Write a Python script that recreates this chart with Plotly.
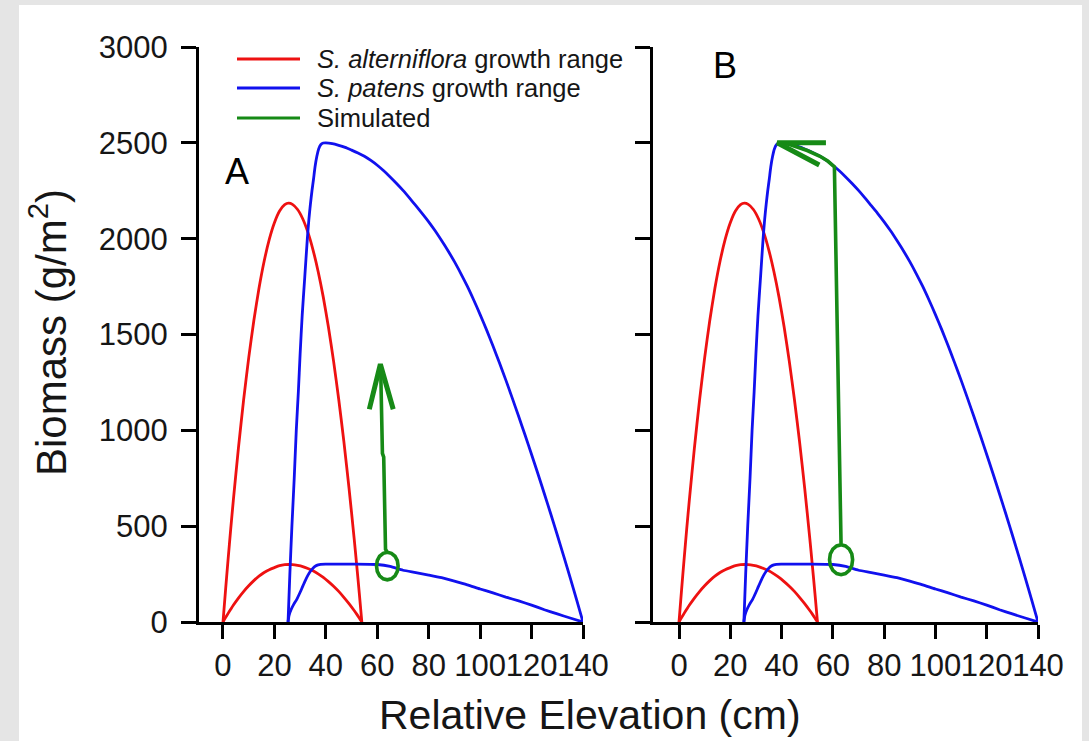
import plotly.graph_objects as go

# ---- growth-range curves: elevation (cm) vs. biomass (g/m2) ----
alt_x = [0, 1, 2, 3, 4, 6, 8, 10, 12, 14, 16, 18, 20, 22, 24, 25.5, 27, 29, 31,
         33, 35, 37, 39, 41, 43, 45, 47, 49, 51, 52, 53, 54]
alt_max_y = [0, 168, 329, 484, 632, 907, 1156, 1378, 1573, 1741, 1882, 1996,
             2083, 2144, 2177, 2185, 2179, 2152, 2104, 2034, 1942, 1829, 1695,
             1539, 1361, 1162, 942, 700, 436, 296, 151, 0]
alt_min_y = [0, 23, 45, 66, 87, 125, 159, 189, 216, 239, 258, 273, 284, 294,
             299, 300, 299, 295, 289, 279, 267, 251, 233, 211, 187, 160, 129,
             96, 60, 41, 21, 0]

pat_max_x = [25.3, 26, 26.8, 27.7, 28.5, 29.3, 30, 30.8, 31.8, 32.8, 33.4, 34,
             34.6, 35.2, 35.8, 36.5, 37.2, 38, 39, 40, 42.5, 45, 47.5, 50, 52.5,
             55, 57.5, 60, 62.5, 65, 67.5, 70, 72.5, 75, 77.5, 80, 82.5, 85,
             87.5, 90, 92.5, 95, 97.5, 100, 102.5, 105, 107.5, 110, 112.5, 115,
             117.5, 120, 122.5, 125, 127.5, 130, 132.5, 135, 137.5, 140]
pat_max_y = [0, 250, 500, 750, 1000, 1200, 1400, 1600, 1800, 2000, 2100, 2180,
             2250, 2310, 2375, 2430, 2468, 2490, 2499, 2500, 2496, 2487, 2476,
             2462, 2447, 2430, 2408, 2383, 2354, 2322, 2288, 2252, 2213, 2172,
             2131, 2088, 2041, 1990, 1937, 1880, 1818, 1752, 1680, 1604, 1524,
             1440, 1352, 1262, 1168, 1072, 974, 874, 772, 668, 562, 454, 344,
             232, 117, 0]

pat_min_x = [25.3, 25.7, 26.5, 27.5, 28.7, 30, 31, 32, 33, 34, 35, 36, 37, 38,
             40, 50, 60, 65, 70, 75, 80, 85, 90, 95, 100, 105, 110, 115, 120,
             125, 130, 135, 140]
pat_min_y = [0, 35, 65, 92, 118, 155, 186, 216, 243, 265, 281, 292, 298, 301,
             302, 302, 300, 290, 270, 258, 245, 231, 213, 194, 172, 152, 130,
             110, 88, 64, 42, 21, 0]

# ---- simulated trajectories (small loop, then upward path) ----
sim_a_x = [63.9, 65.5, 66.9, 67.8, 68.1, 67.8, 66.9, 65.5, 63.9, 62.3, 60.9,
           60.0, 59.7, 60.0, 60.9, 62.3, 63.9, 63.2, 62.5, 62.0, 61.3]
sim_a_y = [364, 358.5, 343, 320, 292, 264, 241, 225.5, 220, 225.5, 241, 264,
           292, 320, 343, 358.5, 364, 380, 860, 880, 1340]
head_a_x = [56.9, 61.2, 66.2]
head_a_y = [1110, 1345, 1110]

sim_b_x = [63.2, 64.9, 66.4, 67.4, 67.7, 67.4, 66.4, 64.9, 63.2, 61.5, 60.0,
           59.0, 58.7, 59.0, 60.0, 61.5, 63.2, 60.6, 58, 55, 50, 45, 42, 40,
           38.3]
sim_b_y = [403, 397, 380, 355, 325, 295, 270, 253, 247, 253, 270, 295, 325,
           355, 380, 397, 403, 2375, 2405, 2430, 2460, 2485, 2496, 2500, 2500]
head_b_x = [57.3, 38.3, 54.7]
head_b_y = [2500, 2500, 2384]

x_ticks = [0, 20, 40, 60, 80, 100, 120, 140]
y_ticks = [0, 500, 1000, 1500, 2000, 2500, 3000]

legend_labels = ["<i>S. alterniflora</i> growth range",
                 "<i>S. patens</i> growth range",
                 "Simulated"]

RED, BLUE, GREEN = "#ee1111", "#1111ee", "#168a16"
FONT = "Liberation Sans, Arial, sans-serif"
TXT = "#161616"
W, H = 1089, 741

fig = go.Figure()


def add_panel(xa, ya, sx, sy, hx, hy):
    for xs, ys, c in [(alt_x, alt_max_y, RED), (alt_x, alt_min_y, RED),
                      (pat_max_x, pat_max_y, BLUE), (pat_min_x, pat_min_y, BLUE)]:
        fig.add_trace(go.Scatter(x=xs, y=ys, mode="lines", xaxis=xa, yaxis=ya,
                                 line=dict(color=c, width=2.8, shape="spline",
                                           smoothing=0.6),
                                 showlegend=False, hoverinfo="skip"))
    fig.add_trace(go.Scatter(x=sx, y=sy, mode="lines", xaxis=xa, yaxis=ya,
                             line=dict(color=GREEN, width=3.6), showlegend=False,
                             hoverinfo="skip"))
    fig.add_trace(go.Scatter(x=hx, y=hy, mode="lines", xaxis=xa, yaxis=ya,
                             line=dict(color=GREEN, width=5), showlegend=False,
                             hoverinfo="skip"))


add_panel("x", "y", sim_a_x, sim_a_y, head_a_x, head_a_y)
add_panel("x2", "y2", sim_b_x, sim_b_y, head_b_x, head_b_y)

ydom = [1 - 622 / H, 1 - 47 / H]
common_x = dict(tickvals=x_ticks, ticks="outside", ticklen=14, tickwidth=3,
                tickcolor="black", showline=True, linewidth=3, linecolor="black",
                showgrid=False, zeroline=False, ticklabelstandoff=0, tickangle=0,
                automargin=False,
                tickfont=dict(family=FONT, size=31, color=TXT))
common_y = dict(tickvals=y_ticks, range=[0, 3000], domain=ydom, ticks="outside",
                ticklen=15, tickwidth=3, tickcolor="black", showline=True,
                linewidth=3, linecolor="black", showgrid=False, zeroline=False,
                ticklabelstandoff=7, automargin=False,
                tickfont=dict(family=FONT, size=31, color=TXT))

fig.update_layout(
    width=W, height=H, autosize=False,
    margin=dict(l=0, r=0, t=0, b=0, autoexpand=False),
    paper_bgcolor="#e5e5e5", plot_bgcolor="white",
    xaxis=dict(domain=[199 / W, 583 / W], range=[-9.33, 140], anchor="y", **common_x),
    yaxis=dict(anchor="x", **common_y),
    xaxis2=dict(domain=[653 / W, 1038 / W], range=[-10.14, 140], anchor="y2", **common_x),
    yaxis2=dict(anchor="x2", showticklabels=False, **common_y),
)

# white page behind the two panels
fig.add_shape(type="rect", xref="paper", yref="paper", x0=19 / W, x1=1082 / W,
              y0=0, y1=1 - 5 / H, fillcolor="white", line=dict(width=0), layer="below")

# legend keys and entries
for label, col, py in zip(legend_labels, [RED, BLUE, GREEN], [59, 88, 118]):
    fig.add_shape(type="line", xref="paper", yref="paper", x0=237 / W, x1=300 / W,
                  y0=1 - py / H, y1=1 - py / H, line=dict(color=col, width=2.8))
    fig.add_annotation(text=label, xref="paper", yref="paper", x=315 / W,
                       y=1 - py / H, xanchor="left", yanchor="middle",
                       showarrow=False, font=dict(family=FONT, size=25.5, color=TXT))

# panel letters
for letter, px, py in [("A", 237, 172), ("B", 725, 65)]:
    fig.add_annotation(text=letter, xref="paper", yref="paper", x=px / W,
                       y=1 - py / H, xanchor="center", yanchor="middle",
                       showarrow=False, font=dict(family=FONT, size=36, color="black"))

# axis titles
fig.add_annotation(text="Relative Elevation (cm)", xref="paper", yref="paper",
                   x=590 / W, y=1 - 715 / H, xanchor="center", yanchor="middle",
                   showarrow=False, font=dict(family=FONT, size=41, color=TXT))
fig.add_annotation(text="Biomass (g/m<sup>2</sup>)", xref="paper", yref="paper",
                   x=48 / W, y=1 - 333 / H, xanchor="center", yanchor="middle",
                   textangle=-90, showarrow=False,
                   font=dict(family=FONT, size=42, color=TXT))

fig.write_html("out.html")
